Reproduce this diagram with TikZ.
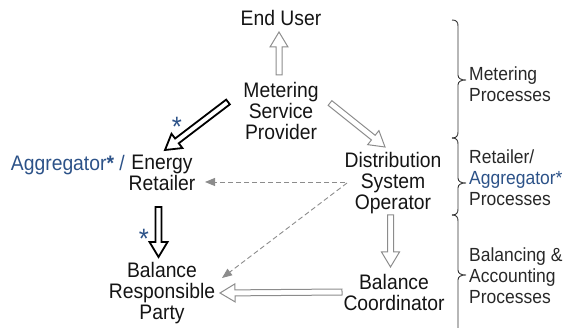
\documentclass[tikz,border=0pt]{standalone}
\usepackage{fontspec}
\setmainfont[FakeStretch=0.92]{Liberation Sans}
\usetikzlibrary{calc,arrows.meta}

\definecolor{aggblue}{RGB}{44,82,136}
\definecolor{flowgrey}{RGB}{140,140,140}
\definecolor{sidegrey}{RGB}{40,40,40}
\definecolor{bracegrey}{RGB}{50,50,50}

% outlined block arrow from #2 to #3 (shaft 6pt, head 18pt wide, 15pt long)
\newcommand\outlinearrow[3][]{%
  \coordinate (oaS) at (#2);
  \coordinate (oaE) at (#3);
  \coordinate (oaH) at ($(oaE)!15pt!(oaS)$);
  \draw[#1] ($(oaS)!3pt!90:(oaE)$) -- ($(oaH)!3pt!-90:(oaS)$)
    -- ($(oaH)!9pt!-90:(oaS)$) -- (oaE) -- ($(oaH)!9pt!90:(oaS)$)
    -- ($(oaH)!3pt!90:(oaS)$) -- ($(oaS)!3pt!-90:(oaE)$) -- cycle;
}

% right-pointing curly bracket: top y, tip y, bottom y
\newcommand\procbrace[3]{%
  \draw[bracket] (452,#1) .. controls (456.5,#1) and (458,{#1+2}) .. (458,{#1+6})
    -- (458,{#2-5}) .. controls (458,{#2-1.5}) and (461,#2) .. (466,#2)
    .. controls (461,#2) and (458,{#2+1.5}) .. (458,{#2+5})
    -- (458,{#3-6}) .. controls (458,{#3-2}) and (456.5,#3) .. (452,#3);
}

\begin{document}
\begin{tikzpicture}[x=1pt,y=-1pt,
  role/.style={font=\fontsize{21}{21}\selectfont, align=center, inner sep=2pt, text=black!92},
  side/.style={font=\fontsize{19}{21}\selectfont, align=left, anchor=west, inner sep=0pt, text=sidegrey},
  starmark/.style={font=\fontsize{28}{28}\selectfont, text=aggblue, inner sep=0pt},
  greyflow/.style={draw=flowgrey, line width=1pt, line join=miter},
  blackflow/.style={draw=black, line width=1.8pt, line join=miter},
  infoflow/.style={draw=flowgrey, line width=0.9pt, dash pattern=on 5pt off 3pt,
    -{Triangle[length=10pt,width=8pt]}},
  bracket/.style={draw=bracegrey, line width=0.9pt}]
\useasboundingbox (0,0) rectangle (564,328);
\clip (0,0) rectangle (564,328);

% market roles
\node[role] (eu)  at (281,18)  {End User};
\node[role] (msp) at (281,111) {Metering\\Service\\Provider};
\node[role] (dso) at (393,183) {Distribution\\System\\Operator};
\node[role] (er)  at (162,173) {Energy\\Retailer};
\node[role] (brp) at (162,293) {Balance\\Responsible\\Party};
\node[role] (bc)  at (394,292) {Balance\\Coordinator};
\node[role, anchor=base east, text=aggblue] (agg) at (127,170.5) {Aggregator\textbf{*} /};

% data flows
\outlinearrow[greyflow]{$(msp)+(-2,-36)$}{$(eu)+(-2,14)$}
\outlinearrow[blackflow]{$(msp)+(-53,-9)$}{$(er)+(3,-23)$}
\outlinearrow[greyflow]{$(msp)+(49,-8)$}{$(dso)+(-8,-36)$}
\outlinearrow[greyflow]{$(dso)+(-2.5,32)$}{$(bc)+(-3.5,-25)$}
\outlinearrow[greyflow]{$(bc)+(-52,0)$}{$(brp)+(58,0)$}
\outlinearrow[blackflow]{$(er)+(-3.5,34)$}{$(brp)+(-3.5,-36)$}

\draw[infoflow] ($(dso)+(-48,-1)$) -- ($(er)+(43,9)$);
\draw[infoflow] ($(dso)+(-46,0)$) -- ($(brp)+(60,-15)$);

% aggregator marks
\node[starmark] (star1) at (177,127) {*};
\node[starmark] (star2) at (144,239) {*};

% process groups
\procbrace{20}{80}{138}
\procbrace{138}{183}{215}
\procbrace{215}{275}{335}

\node[side] (gm) at (469,84)  {Metering\\Processes};
\node[side] (gr) at (469,178) {Retailer/\\\textcolor{aggblue}{Aggregator*}\\Processes};
\node[side] (gb) at (469,276) {Balancing \&\\Accounting\\Processes};
\end{tikzpicture}
\end{document}
